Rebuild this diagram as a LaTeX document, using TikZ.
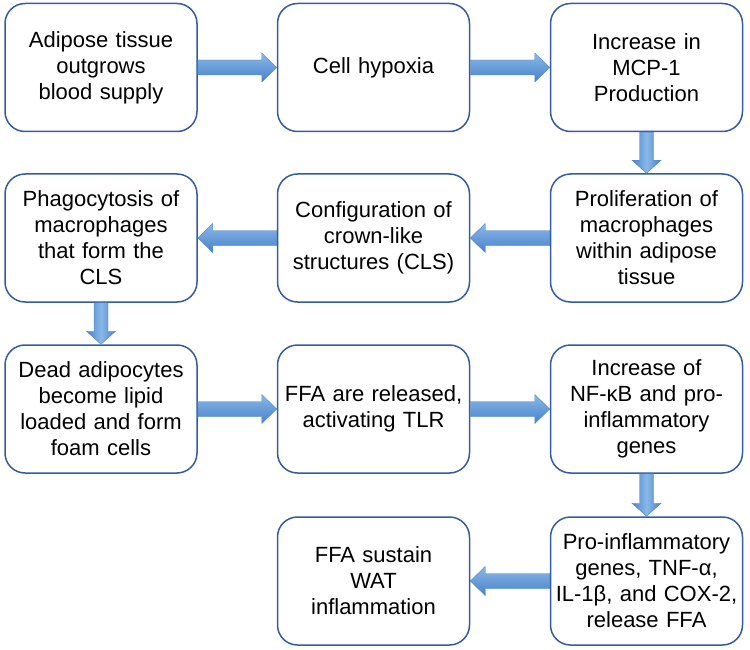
\documentclass[tikz,border=0pt]{standalone}
\usepackage{fontspec}
\setmainfont{Liberation Sans}
\usetikzlibrary{calc}
\definecolor{boxborder}{RGB}{52,92,160}
\definecolor{arrowlight}{RGB}{138,184,232}
\definecolor{arrowdark}{RGB}{72,130,202}
\definecolor{arrowedge}{RGB}{80,132,200}
\tikzset{
  stepbox/.style={draw=boxborder, line width=1.5pt, rounded corners=20pt, fill=white,
    minimum width=192pt, minimum height=128pt, text width=184pt, align=center,
    inner sep=0pt, font=\fontsize{22}{26}\selectfont},
  harrowfill/.style={top color=arrowlight, bottom color=arrowdark, draw=arrowedge, line width=0.4pt},
  varrowfill/.style={left color=arrowdark, right color=arrowdark, middle color=arrowlight, draw=arrowedge, line width=0.4pt}
}
\newcommand{\rarrow}[2]{\path[harrowfill] ($(#1.east)+(0,-7.5)$) -- ($(#2.west)+(-15,-7.5)$) -- ($(#2.west)+(-15,-14.5)$) -- (#2.west) -- ($(#2.west)+(-15,14.5)$) -- ($(#2.west)+(-15,7.5)$) -- ($(#1.east)+(0,7.5)$) -- cycle;}
\newcommand{\larrow}[2]{\path[harrowfill] ($(#1.west)+(0,-7.5)$) -- ($(#2.east)+(15,-7.5)$) -- ($(#2.east)+(15,-14.5)$) -- (#2.east) -- ($(#2.east)+(15,14.5)$) -- ($(#2.east)+(15,7.5)$) -- ($(#1.west)+(0,7.5)$) -- cycle;}
\newcommand{\darrow}[2]{\path[varrowfill] ($(#1.south)+(-7,0)$) -- ($(#2.north)+(-7,-13)$) -- ($(#2.north)+(-14.5,-13)$) -- (#2.north) -- ($(#2.north)+(14.5,-13)$) -- ($(#2.north)+(7,-13)$) -- ($(#1.south)+(7,0)$) -- cycle;}
\begin{document}
\begin{tikzpicture}[x=1pt,y=-1pt]
\useasboundingbox (0,0) rectangle (750,650);
\node[stepbox] (a1) at (101,67.5) {Adipose tissue\\outgrows\\blood supply};
\node[stepbox] (a2) at (373.5,67.5) {Cell hypoxia};
\node[stepbox] (a3) at (646.5,67.5) {Increase in\\MCP-1\\Production};
\node[stepbox] (b3) at (646.5,238) {Proliferation of\\macrophages\\within adipose\\tissue};
\node[stepbox] (b2) at (373.5,238) {Configuration of\\crown-like\\structures (CLS)};
\node[stepbox] (b1) at (101,238) {Phagocytosis of\\macrophages\\that form the\\CLS};
\node[stepbox] (c1) at (101,409) {Dead adipocytes\\become lipid\\loaded and form\\foam cells};
\node[stepbox] (c2) at (373.5,409) {FFA are released,\\activating TLR};
\node[stepbox] (c3) at (646.5,409) {Increase of\\NF-κB and pro-\\inflammatory\\genes};
\node[stepbox] (d3) at (646.5,581) {Pro-inflammatory\\genes, TNF-α,\\IL-1β, and COX-2,\\release FFA};
\node[stepbox] (d2) at (373.5,581) {FFA sustain\\WAT\\inflammation};
\rarrow{a1}{a2}
\rarrow{a2}{a3}
\darrow{a3}{b3}
\larrow{b3}{b2}
\larrow{b2}{b1}
\darrow{b1}{c1}
\rarrow{c1}{c2}
\rarrow{c2}{c3}
\darrow{c3}{d3}
\larrow{d3}{d2}
\end{tikzpicture}
\end{document}
